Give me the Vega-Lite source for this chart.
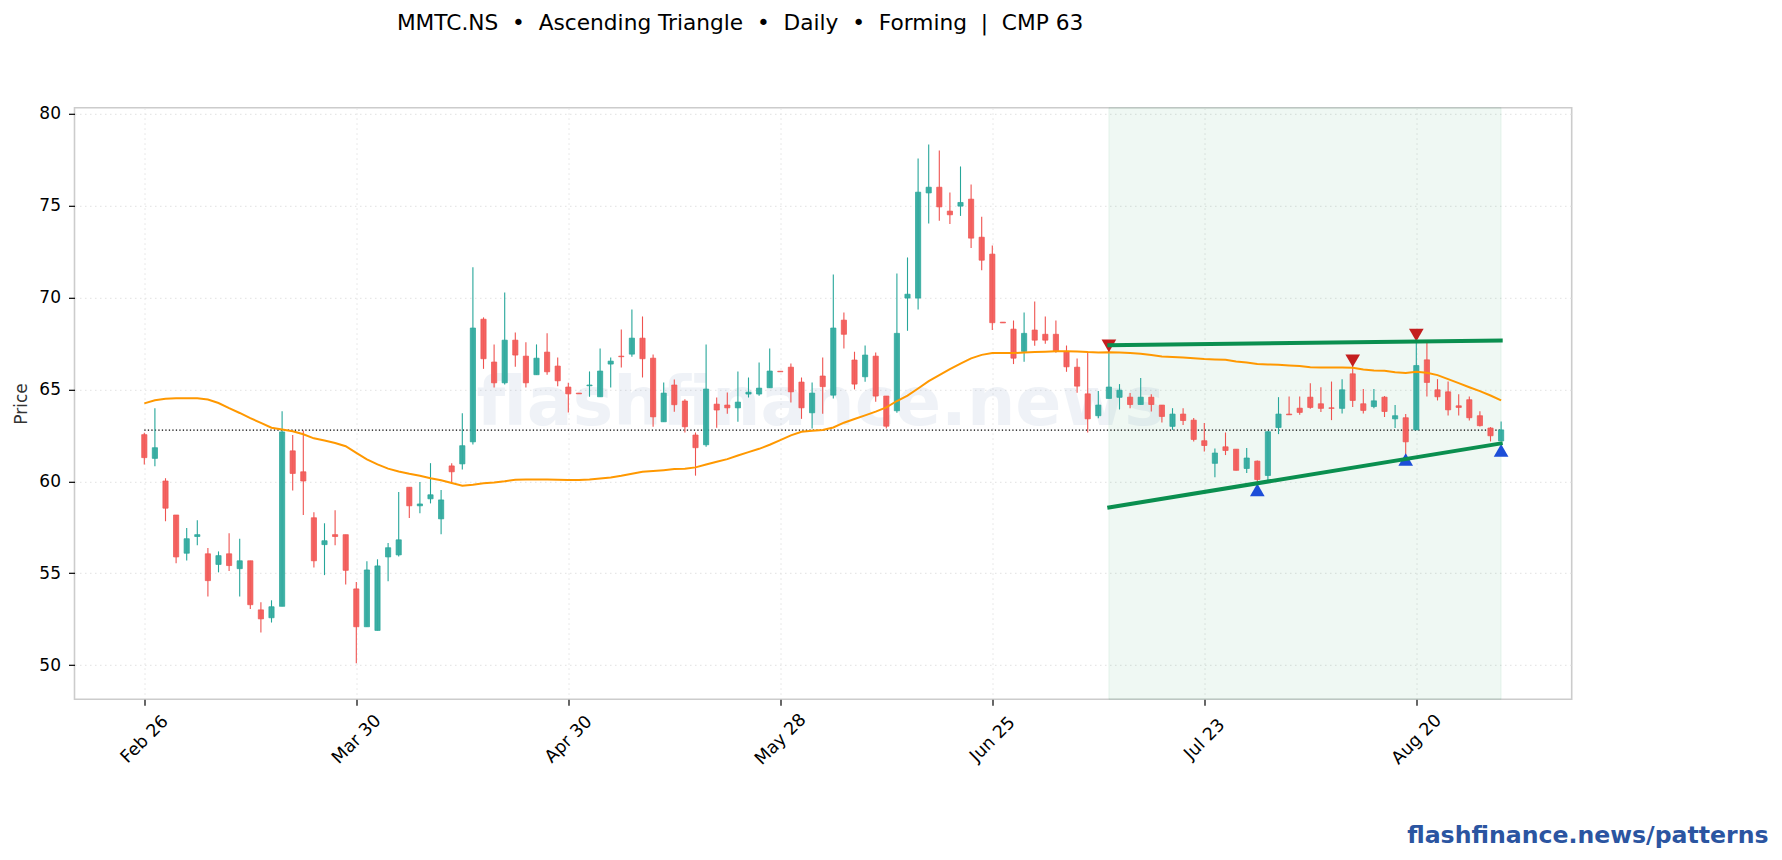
{
  "$schema": "https://vega.github.io/schema/vega-lite/v6.json",
  "description": "Daily candles with 20 day mean and an ascending triangle forming",
  "title": {
    "text": "MMTC.NS\u00a0\u00a0•\u00a0\u00a0Ascending Triangle\u00a0\u00a0•\u00a0\u00a0Daily\u00a0\u00a0•\u00a0\u00a0Forming\u00a0\u00a0|\u00a0\u00a0CMP 63",
    "anchor": "middle",
    "dx": -83,
    "offset": 70,
    "font": "DejaVu Sans",
    "fontSize": 21.7,
    "fontWeight": "normal",
    "color": "#000000"
  },
  "autosize": {"type": "none"},
  "padding": {"left": 74.5, "top": 107.8, "right": 210.3, "bottom": 160.8},
  "width": 1497.2,
  "height": 591.4,
  "background": "#ffffff",
  "config": {
    "font": "DejaVu Sans",
    "view": {"stroke": "#cccccc", "strokeWidth": 1.6}
  },
  "datasets": {
    "candles": [
      {"i":0,"o":62.54,"h":62.65,"l":60.92,"c":61.29,"ma":64.24},
      {"i":1,"o":61.25,"h":63.98,"l":60.82,"c":61.83,"ma":64.41},
      {"i":2,"o":60.02,"h":60.17,"l":57.83,"c":58.54,"ma":64.49},
      {"i":3,"o":58.17,"h":58.17,"l":55.55,"c":55.89,"ma":64.52},
      {"i":4,"o":56.09,"h":57.46,"l":55.7,"c":56.88,"ma":64.52},
      {"i":5,"o":57.0,"h":57.89,"l":56.52,"c":57.1,"ma":64.52},
      {"i":6,"o":56.06,"h":56.37,"l":53.74,"c":54.6,"ma":64.45},
      {"i":7,"o":55.48,"h":56.19,"l":55.05,"c":55.96,"ma":64.26},
      {"i":8,"o":56.06,"h":57.18,"l":55.12,"c":55.42,"ma":63.98},
      {"i":9,"o":55.25,"h":56.88,"l":53.74,"c":55.68,"ma":63.72},
      {"i":10,"o":55.68,"h":55.68,"l":53.05,"c":53.29,"ma":63.44},
      {"i":11,"o":53.01,"h":53.42,"l":51.78,"c":52.52,"ma":63.18},
      {"i":12,"o":52.58,"h":53.53,"l":52.32,"c":53.18,"ma":62.92},
      {"i":13,"o":53.2,"h":63.81,"l":53.2,"c":62.69,"ma":62.82},
      {"i":14,"o":61.66,"h":62.52,"l":59.5,"c":60.43,"ma":62.73},
      {"i":15,"o":60.52,"h":62.77,"l":58.17,"c":60.02,"ma":62.56},
      {"i":16,"o":58.02,"h":58.32,"l":55.31,"c":55.68,"ma":62.34},
      {"i":17,"o":56.56,"h":57.72,"l":54.9,"c":56.77,"ma":62.22},
      {"i":18,"o":57.1,"h":58.43,"l":56.52,"c":57.0,"ma":62.09},
      {"i":19,"o":57.1,"h":57.1,"l":54.39,"c":55.16,"ma":61.91},
      {"i":20,"o":54.15,"h":54.52,"l":50.11,"c":52.09,"ma":61.55},
      {"i":21,"o":52.09,"h":55.66,"l":52.09,"c":55.18,"ma":61.2},
      {"i":22,"o":51.89,"h":55.76,"l":51.89,"c":55.4,"ma":60.92},
      {"i":23,"o":55.89,"h":56.65,"l":54.56,"c":56.39,"ma":60.69},
      {"i":24,"o":56.0,"h":59.42,"l":55.91,"c":56.82,"ma":60.54},
      {"i":25,"o":59.68,"h":59.68,"l":58.0,"c":58.67,"ma":60.41},
      {"i":26,"o":58.67,"h":59.96,"l":58.26,"c":58.77,"ma":60.3},
      {"i":27,"o":59.05,"h":60.99,"l":58.8,"c":59.27,"ma":60.17},
      {"i":28,"o":57.96,"h":59.53,"l":57.12,"c":58.99,"ma":60.06},
      {"i":29,"o":60.84,"h":60.99,"l":59.94,"c":60.52,"ma":59.91},
      {"i":30,"o":60.95,"h":63.7,"l":60.65,"c":61.94,"ma":59.76},
      {"i":31,"o":62.15,"h":71.65,"l":62.0,"c":68.34,"ma":59.82},
      {"i":32,"o":68.82,"h":68.92,"l":66.12,"c":66.67,"ma":59.9},
      {"i":33,"o":66.49,"h":67.45,"l":65.11,"c":65.36,"ma":59.94},
      {"i":34,"o":65.36,"h":70.27,"l":65.27,"c":67.68,"ma":60.0},
      {"i":35,"o":67.68,"h":68.1,"l":66.23,"c":66.87,"ma":60.09},
      {"i":36,"o":66.81,"h":67.56,"l":65.11,"c":65.36,"ma":60.1},
      {"i":37,"o":65.8,"h":67.45,"l":65.8,"c":66.7,"ma":60.1},
      {"i":38,"o":67.03,"h":68.05,"l":65.8,"c":65.96,"ma":60.1},
      {"i":39,"o":66.27,"h":66.74,"l":65.18,"c":65.47,"ma":60.09},
      {"i":40,"o":65.13,"h":65.36,"l":63.75,"c":64.76,"ma":60.07},
      {"i":41,"o":64.8,"h":64.8,"l":64.76,"c":64.76,"ma":60.08},
      {"i":42,"o":65.2,"h":65.98,"l":64.6,"c":65.24,"ma":60.1},
      {"i":43,"o":64.6,"h":67.23,"l":64.6,"c":66.0,"ma":60.16},
      {"i":44,"o":66.38,"h":66.74,"l":65.11,"c":66.54,"ma":60.21},
      {"i":45,"o":66.81,"h":68.26,"l":66.2,"c":66.78,"ma":60.3},
      {"i":46,"o":66.92,"h":69.35,"l":66.78,"c":67.79,"ma":60.41},
      {"i":47,"o":67.79,"h":68.97,"l":65.65,"c":66.67,"ma":60.52},
      {"i":48,"o":66.7,"h":66.9,"l":62.97,"c":63.51,"ma":60.56},
      {"i":49,"o":63.24,"h":65.38,"l":63.24,"c":64.8,"ma":60.61},
      {"i":50,"o":65.24,"h":65.54,"l":63.79,"c":64.17,"ma":60.67},
      {"i":51,"o":64.37,"h":64.46,"l":62.66,"c":62.97,"ma":60.69},
      {"i":52,"o":62.52,"h":62.66,"l":60.31,"c":61.83,"ma":60.76},
      {"i":53,"o":61.99,"h":67.45,"l":61.88,"c":65.02,"ma":60.92},
      {"i":54,"o":64.2,"h":64.56,"l":62.92,"c":63.88,"ma":61.07},
      {"i":55,"o":64.15,"h":64.84,"l":63.68,"c":64.0,"ma":61.21},
      {"i":56,"o":64.0,"h":65.98,"l":63.24,"c":64.31,"ma":61.41},
      {"i":57,"o":64.75,"h":65.65,"l":64.56,"c":64.85,"ma":61.59},
      {"i":58,"o":64.75,"h":66.47,"l":64.66,"c":65.07,"ma":61.77},
      {"i":59,"o":65.09,"h":67.23,"l":65.09,"c":66.0,"ma":61.99},
      {"i":60,"o":65.99,"h":65.99,"l":65.96,"c":65.96,"ma":62.24},
      {"i":61,"o":66.21,"h":66.41,"l":64.29,"c":64.87,"ma":62.5},
      {"i":62,"o":65.4,"h":65.65,"l":63.4,"c":64.0,"ma":62.7},
      {"i":63,"o":63.73,"h":65.38,"l":62.88,"c":64.8,"ma":62.75},
      {"i":64,"o":65.73,"h":66.74,"l":63.68,"c":65.15,"ma":62.79},
      {"i":65,"o":64.69,"h":71.25,"l":64.51,"c":68.34,"ma":62.93},
      {"i":66,"o":68.77,"h":69.19,"l":67.23,"c":68.0,"ma":63.19},
      {"i":67,"o":66.6,"h":67.05,"l":65.0,"c":65.29,"ma":63.39},
      {"i":68,"o":65.69,"h":67.39,"l":65.42,"c":66.87,"ma":63.59},
      {"i":69,"o":66.81,"h":67.01,"l":64.33,"c":64.64,"ma":63.79},
      {"i":70,"o":64.64,"h":64.64,"l":62.88,"c":63.0,"ma":64.02},
      {"i":71,"o":63.84,"h":71.31,"l":63.73,"c":68.05,"ma":64.37},
      {"i":72,"o":69.97,"h":72.18,"l":68.19,"c":70.18,"ma":64.66},
      {"i":73,"o":69.97,"h":77.56,"l":69.35,"c":75.73,"ma":65.05},
      {"i":74,"o":75.69,"h":78.32,"l":74.02,"c":76.0,"ma":65.45},
      {"i":75,"o":76.0,"h":78.0,"l":74.17,"c":74.93,"ma":65.78},
      {"i":76,"o":74.7,"h":75.71,"l":74.0,"c":74.5,"ma":66.1},
      {"i":77,"o":74.97,"h":77.13,"l":74.44,"c":75.17,"ma":66.41},
      {"i":78,"o":75.35,"h":76.15,"l":72.7,"c":73.23,"ma":66.69},
      {"i":79,"o":73.28,"h":74.39,"l":71.49,"c":72.03,"ma":66.88},
      {"i":80,"o":72.36,"h":72.83,"l":68.23,"c":68.63,"ma":66.98},
      {"i":81,"o":68.66,"h":68.66,"l":68.62,"c":68.62,"ma":66.98},
      {"i":82,"o":68.28,"h":68.75,"l":66.38,"c":66.7,"ma":66.98},
      {"i":83,"o":67.07,"h":69.19,"l":66.5,"c":68.05,"ma":67.01},
      {"i":84,"o":68.23,"h":69.79,"l":67.38,"c":67.68,"ma":67.03},
      {"i":85,"o":68.0,"h":68.97,"l":67.49,"c":67.68,"ma":67.05},
      {"i":86,"o":68.0,"h":68.75,"l":67.0,"c":67.1,"ma":67.08},
      {"i":87,"o":67.07,"h":67.39,"l":65.96,"c":66.23,"ma":67.08},
      {"i":88,"o":66.21,"h":66.68,"l":64.82,"c":65.18,"ma":67.07},
      {"i":89,"o":64.76,"h":67.07,"l":62.66,"c":63.4,"ma":67.03},
      {"i":90,"o":63.57,"h":64.91,"l":63.43,"c":64.15,"ma":67.01},
      {"i":91,"o":64.51,"h":67.07,"l":64.51,"c":65.13,"ma":67.02},
      {"i":92,"o":64.57,"h":65.29,"l":63.91,"c":64.96,"ma":67.01},
      {"i":93,"o":64.58,"h":64.8,"l":63.97,"c":64.18,"ma":66.98},
      {"i":94,"o":64.18,"h":65.62,"l":64.18,"c":64.58,"ma":66.94},
      {"i":95,"o":64.58,"h":64.74,"l":63.8,"c":64.18,"ma":66.87},
      {"i":96,"o":64.15,"h":64.15,"l":63.2,"c":63.53,"ma":66.79},
      {"i":97,"o":62.99,"h":63.98,"l":62.8,"c":63.66,"ma":66.76},
      {"i":98,"o":63.66,"h":63.98,"l":63.06,"c":63.31,"ma":66.74},
      {"i":99,"o":63.33,"h":63.44,"l":62.17,"c":62.28,"ma":66.69},
      {"i":100,"o":62.21,"h":63.17,"l":61.63,"c":61.95,"ma":66.65},
      {"i":101,"o":60.98,"h":61.79,"l":60.23,"c":61.54,"ma":66.63},
      {"i":102,"o":61.88,"h":62.66,"l":61.43,"c":61.68,"ma":66.61},
      {"i":103,"o":61.75,"h":61.75,"l":60.59,"c":60.6,"ma":66.52},
      {"i":104,"o":60.7,"h":61.81,"l":60.45,"c":61.27,"ma":66.47},
      {"i":105,"o":61.1,"h":61.14,"l":59.9,"c":60.1,"ma":66.39},
      {"i":106,"o":60.32,"h":62.72,"l":60.0,"c":62.7,"ma":66.36},
      {"i":107,"o":62.93,"h":64.58,"l":62.57,"c":63.66,"ma":66.34},
      {"i":108,"o":63.66,"h":64.62,"l":63.62,"c":63.62,"ma":66.3},
      {"i":109,"o":63.98,"h":64.62,"l":63.62,"c":63.75,"ma":66.27},
      {"i":110,"o":64.58,"h":65.34,"l":63.95,"c":64.02,"ma":66.21},
      {"i":111,"o":64.22,"h":65.12,"l":63.77,"c":63.97,"ma":66.2},
      {"i":112,"o":64.0,"h":65.43,"l":63.33,"c":63.97,"ma":66.2},
      {"i":113,"o":63.97,"h":65.56,"l":63.69,"c":64.98,"ma":66.2},
      {"i":114,"o":65.85,"h":66.3,"l":64.04,"c":64.4,"ma":66.18},
      {"i":115,"o":64.22,"h":65.02,"l":63.69,"c":63.86,"ma":66.09},
      {"i":116,"o":64.07,"h":65.02,"l":63.97,"c":64.38,"ma":66.03},
      {"i":117,"o":64.58,"h":64.64,"l":63.5,"c":63.8,"ma":66.01},
      {"i":118,"o":63.4,"h":64.15,"l":62.9,"c":63.57,"ma":65.94},
      {"i":119,"o":63.46,"h":63.66,"l":61.2,"c":62.15,"ma":65.89},
      {"i":120,"o":62.8,"h":67.52,"l":62.8,"c":66.3,"ma":65.96},
      {"i":121,"o":66.61,"h":67.52,"l":64.62,"c":65.38,"ma":65.91},
      {"i":122,"o":64.98,"h":65.56,"l":64.4,"c":64.6,"ma":65.78},
      {"i":123,"o":64.87,"h":65.43,"l":63.58,"c":63.89,"ma":65.56},
      {"i":124,"o":64.11,"h":64.74,"l":63.58,"c":64.02,"ma":65.34},
      {"i":125,"o":64.44,"h":64.62,"l":63.31,"c":63.46,"ma":65.12},
      {"i":126,"o":63.57,"h":63.82,"l":62.99,"c":63.03,"ma":64.91},
      {"i":127,"o":62.9,"h":62.95,"l":62.17,"c":62.48,"ma":64.67},
      {"i":128,"o":62.2,"h":63.26,"l":62.2,"c":62.8,"ma":64.4}
    ],
    "trend": [
      {"line":"upper","i":90.85,"v":67.41},
      {"line":"upper","i":128.15,"v":67.66},
      {"line":"lower","i":90.85,"v":58.56},
      {"line":"lower","i":128.15,"v":62.08}
    ],
    "pivots": [
      {"kind":"high","i":91,"v":67.37},
      {"kind":"high","i":114,"v":66.56},
      {"kind":"high","i":120,"v":67.95},
      {"kind":"low","i":105,"v":59.54},
      {"kind":"low","i":119,"v":61.19},
      {"kind":"low","i":128,"v":61.68}
    ]
  },
  "data": {"name": "candles"},
  "encoding": {
    "x": {
      "field": "i",
      "type": "quantitative",
      "scale": {"domain": [-6.585, 134.66], "nice": false, "zero": false, "padding": 0},
      "axis": {
        "title": "flashfinance.news/patterns",
        "titleFont": "DejaVu Sans",
        "titleFontSize": 23.6,
        "titleFontWeight": "bold",
        "titleColor": "#2b55a1",
        "titleAlign": "right",
        "titleBaseline": "middle",
        "titleX": 1693.5,
        "titleY": 136,
        "values": [0, 20, 40, 60, 80, 100, 120],
        "labelExpr": "['Feb 26','Mar 30','Apr 30','May 28','Jun 25','Jul 23','Aug 20'][datum.value / 20]",
        "labelAngle": -45,
        "labelAlign": "center",
        "labelBaseline": "middle",
        "labelFontSize": 17.5,
        "labelColor": "#000000",
        "labelPadding": 34,
        "labelFlush": false,
        "labelOverlap": false,
        "tickColor": "#000000",
        "tickSize": 6,
        "tickWidth": 1.2,
        "domain": false,
        "grid": true,
        "gridColor": "#e2e2e2",
        "gridDash": [1.5, 3.5],
        "gridWidth": 1
      }
    },
    "y": {
      "type": "quantitative",
      "scale": {"domain": [48.15, 80.32], "nice": false, "zero": false},
      "axis": {
        "title": "Price",
        "titleFontSize": 17,
        "titleFontWeight": "normal",
        "titleColor": "#333333",
        "titlePadding": 8,
        "values": [50, 55, 60, 65, 70, 75, 80],
        "labelFontSize": 17,
        "labelColor": "#000000",
        "labelPadding": 8,
        "tickColor": "#000000",
        "tickSize": 6,
        "tickWidth": 1.2,
        "domain": false,
        "grid": true,
        "gridColor": "#e2e2e2",
        "gridDash": [1.5, 3.5],
        "gridWidth": 1
      }
    }
  },
  "layer": [
    {
      "data": {"values": [{"from": 91, "to": 128}]},
      "mark": {"type": "rect", "fill": "#0a8f4f", "fillOpacity": 0.065, "stroke": "#0a8f4f", "strokeOpacity": 0.08, "strokeWidth": 1},
      "encoding": {
        "x": {"field": "from", "type": "quantitative"},
        "x2": {"field": "to"},
        "y": {"value": 0},
        "y2": {"value": 591.4}
      }
    },
    {
      "data": {"values": [{"i": 63.8, "v": 63.08, "t": "flashfinance.news"}]},
      "mark": {"type": "text", "font": "DejaVu Sans", "fontWeight": "bold", "fontSize": 68, "color": "#2b5a9a", "opacity": 0.07, "align": "center", "baseline": "alphabetic"},
      "encoding": {
        "y": {"field": "v", "type": "quantitative"},
        "text": {"field": "t"}
      }
    },
    {
      "data": {"values": [{"from": 0, "to": 128, "v": 62.79}]},
      "mark": {"type": "rule", "color": "#000000", "strokeWidth": 1.3, "strokeDash": [1.3, 2.2]},
      "encoding": {
        "x": {"field": "from", "type": "quantitative"},
        "x2": {"field": "to"},
        "y": {"field": "v", "type": "quantitative"}
      }
    },
    {
      "mark": {"type": "rule", "strokeWidth": 1.1},
      "encoding": {
        "y": {"field": "l", "type": "quantitative"},
        "y2": {"field": "h"},
        "color": {"condition": {"test": "datum.c >= datum.o", "value": "#26a69a"}, "value": "#ef5350"}
      }
    },
    {
      "mark": {"type": "bar", "size": 5.2, "strokeWidth": 0.7, "fillOpacity": 0.95},
      "encoding": {
        "y": {"field": "o", "type": "quantitative"},
        "y2": {"field": "c"},
        "fill": {"condition": {"test": "datum.c >= datum.o", "value": "#33ab9f"}, "value": "#f25c5a"},
        "stroke": {"condition": {"test": "datum.c >= datum.o", "value": "#26a69a"}, "value": "#ef5350"}
      }
    },
    {
      "mark": {"type": "line", "color": "#ff9800", "strokeWidth": 2},
      "encoding": {"y": {"field": "ma", "type": "quantitative"}}
    },
    {
      "data": {"name": "pivots"},
      "mark": {"type": "point", "filled": true, "opacity": 1, "size": 215},
      "encoding": {
        "y": {"field": "v", "type": "quantitative"},
        "shape": {"field": "kind", "type": "nominal", "scale": {"domain": ["high", "low"], "range": ["triangle-down", "triangle-up"]}, "legend": null},
        "color": {"field": "kind", "type": "nominal", "scale": {"domain": ["high", "low"], "range": ["#c41e1e", "#1d4ed8"]}, "legend": null}
      }
    },
    {
      "data": {"name": "trend"},
      "mark": {"type": "line", "color": "#0a8f4f", "strokeWidth": 4},
      "encoding": {
        "y": {"field": "v", "type": "quantitative"},
        "detail": {"field": "line"}
      }
    }
  ]
}
